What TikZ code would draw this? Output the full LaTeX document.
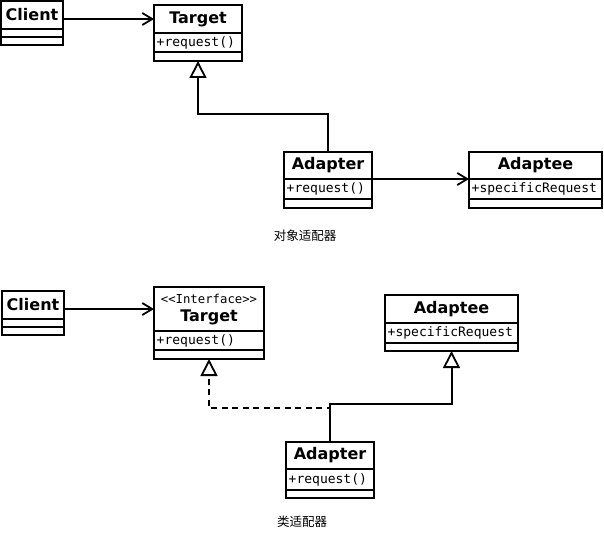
\documentclass[tikz,border=0pt]{standalone}
\usepackage{fontspec}
\usetikzlibrary{arrows.meta}
\newfontfamily\dvs{DejaVu Sans}
\newfontfamily\dvm{DejaVu Sans Mono}
\newfontfamily\cjk{Noto Sans CJK SC}
\tikzset{
  row/.style={draw, line width=1.8pt, inner sep=0pt, outer sep=0pt, anchor=north west},
  ttl/.style={row, font=\dvs\bfseries\fontsize{16}{18}\selectfont},
  attrtxt/.style={anchor=west, inner sep=0pt, font=\dvm\fontsize{13}{15}\selectfont},
  stereo/.style={inner sep=0pt, font=\dvm\fontsize{12.3}{14}\selectfont},
  bigname/.style={inner sep=0pt, font=\dvs\bfseries\fontsize{16}{18}\selectfont},
  captext/.style={inner sep=0pt, font=\cjk\fontsize{12.5}{14}\selectfont},
  assoc/.style={line width=2pt, -{Straight Barb[length=10pt,width=12pt,line width=1.8pt]}},
  gen/.style={line width=2pt, -{Triangle[open,length=17pt,width=17pt,fill=white,line width=1.8pt]}},
  real/.style={gen, dash pattern=on 6pt off 4.5pt},
}
% name, x, y, width, h1, h2, h3, title, attribute
\newcommand\umlcls[9]{%
  \node[ttl, minimum width=#4pt, minimum height=#5pt] (#1t) at (#2,#3) {#8};
  \node[row, minimum width=#4pt, minimum height=#6pt] (#1a) at (#1t.south west) {};
  \node[attrtxt] (#1x) at ([xshift=2.5pt]#1a.west) {#9};
  \node[row, minimum width=#4pt, minimum height=#7pt] (#1m) at (#1a.south west) {};
}
\begin{document}
\begin{tikzpicture}[x=1pt,y=-1pt]
\useasboundingbox (0,0) rectangle (604,532);
% ---- object adapter ----
\umlcls{client1}{1}{1}{62}{28}{8}{8}{Client}{}
\umlcls{target1}{154}{5}{88}{28}{19}{9}{Target}{+request()}
\umlcls{adapter1}{284}{152}{88}{27}{20}{9}{Adapter}{+request()}
\umlcls{adaptee1}{469}{152}{133}{27}{20}{9}{Adaptee}{+specificRequest}
\draw[assoc] (client1t.east |- target1t.west) -- (target1t.west);
\draw[gen] (adapter1t.north) |- (target1m.south |- 0,114) -- (target1m.south);
\draw[assoc] (adapter1a.north east) -- (adaptee1a.north west);
\node[captext] (cap1) at (305,236) {对象适配器};
% ---- class adapter ----
\umlcls{client2}{2}{291}{62}{28}{8}{8}{Client}{}
\umlcls{target2}{154}{287}{110}{44}{19}{9}{}{+request()}
\node[stereo] (target2s) at (209,299) {<<Interface>>};
\node[bigname] (target2n) at (209,317.5) {Target};
\umlcls{adaptee2}{385}{295}{133}{28}{20}{8}{Adaptee}{+specificRequest}
\umlcls{adapter2}{286}{442}{88}{27}{21}{8}{Adapter}{+request()}
\draw[assoc] (client2t.east |- target2t.west) -- (target2t.west);
\draw[real] (adapter2t.north) |- (target2m.south |- 0,408) -- (target2m.south);
\draw[gen] (adapter2t.north) |- (adaptee2m.south |- 0,404) -- (adaptee2m.south);
\node[captext] (cap2) at (302,522) {类适配器};
\end{tikzpicture}
\end{document}
